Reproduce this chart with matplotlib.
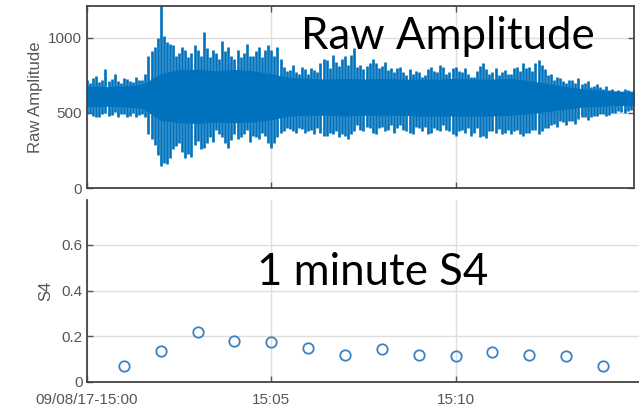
import numpy as np
import matplotlib
matplotlib.use("Agg")
import matplotlib.pyplot as plt

# raw amplitude envelope, one value every 10 s (minutes after 15:00)
raw_step_min = 1 / 6
raw_hi = [720, 730, 705, 790, 725, 710, 735, 715, 740, 720,
          880, 940, 1230, 970, 950, 900, 920, 900, 920, 1040,
          870, 900, 975, 940, 860, 870, 960, 880, 940, 920,
          920, 940, 805, 785, 775, 805, 760, 785, 830, 850,
          885, 815, 875, 885, 805, 795, 830, 830, 815, 785,
          775, 805, 750, 760, 775, 750, 805, 775, 805, 775,
          805, 775, 760, 740, 815, 795, 775, 750, 785, 760,
          805, 830, 805, 830, 820, 750, 720, 730, 700, 720,
          730, 700, 670, 690, 660, 650, 640, 630, 650, 660]
raw_lo = [490, 480, 470, 500, 485, 475, 495, 480, 470, 490,
          360, 290, 150, 160, 260, 300, 200, 210, 315, 270,
          340, 385, 340, 270, 360, 340, 385, 350, 325, 350,
          270, 340, 380, 395, 365, 395, 380, 360, 365, 350,
          360, 340, 350, 360, 420, 380, 400, 360, 410, 390,
          370, 420, 380, 360, 400, 410, 370, 390, 420, 380,
          350, 390, 400, 370, 340, 335, 380, 395, 370, 360,
          385, 350, 370, 390, 380, 400, 430, 445, 420, 450,
          460, 470, 475, 480, 490, 485, 500, 505, 510, 515]

# in-between peaks, 5 s after each sample above
raw_hi_b = [700, 745, 720, 710, 760, 700, 725, 705, 720, 760,
            910, 1000, 1010, 960, 880, 940, 870, 950, 880, 930,
            920, 860, 910, 880, 920, 900, 880, 910, 870, 950,
            880, 860, 780, 820, 760, 790, 800, 770, 860, 800,
            840, 860, 820, 930, 820, 810, 860, 800, 840, 800,
            800, 770, 790, 780, 740, 790, 780, 820, 760, 800,
            780, 800, 740, 780, 830, 760, 800, 770, 760, 800,
            780, 800, 780, 850, 790, 760, 740, 710, 720, 700,
            690, 710, 680, 670, 680, 660, 650, 660, 640, 650]
raw_lo_b = [500, 470, 490, 480, 505, 490, 470, 500, 485, 475,
            330, 220, 170, 200, 280, 240, 230, 290, 260, 300,
            310, 360, 300, 320, 330, 360, 310, 340, 370, 300,
            300, 370, 400, 380, 400, 370, 390, 400, 350, 370,
            380, 360, 330, 380, 390, 410, 370, 400, 380, 420,
            400, 390, 370, 410, 380, 360, 400, 380, 390, 360,
            380, 370, 350, 400, 350, 380, 370, 360, 390, 380,
            360, 370, 390, 360, 400, 420, 410, 440, 450, 430,
            470, 455, 480, 490, 480, 500, 510, 500, 520, 525]

# dense core of the trace, every 30 s
core_step_min = 0.5
core_hi = [680, 675, 680, 690, 760, 790, 790, 780, 790, 780,
           760, 735, 730, 725, 730, 725, 730, 725, 725, 725,
           730, 725, 725, 730, 715, 695, 675, 660, 650, 645, 645]
core_lo = [540, 545, 540, 530, 450, 435, 430, 440, 435, 440,
           455, 480, 485, 485, 480, 485, 485, 485, 480, 480,
           480, 480, 480, 485, 495, 510, 525, 540, 545, 550, 550]

# 1 minute S4
s4_min = [1, 2, 3, 4, 5, 6, 7, 8, 9, 10, 11, 12, 13, 14]
s4_val = [0.070, 0.136, 0.218, 0.180, 0.173, 0.149, 0.116,
          0.144, 0.118, 0.113, 0.129, 0.118, 0.114, 0.067]

tick_min = [0, 5, 10]
tick_labels = ["09/08/17-15:00", "15:05", "15:10"]

blue = "#0072BD"
tick_col = "#555555"
grid_col = "#dedede"

plt.rcParams["font.family"] = ["Liberation Sans", "DejaVu Sans"]

fig = plt.figure(figsize=(6.39, 4.09), dpi=100)

ax1 = fig.add_axes([87 / 639, 1 - 188.3 / 409, 547 / 639, 182.3 / 409])
ax2 = fig.add_axes([87 / 639, 1 - 381.7 / 409, 558 / 639, 181.7 / 409])

# top panel: raw amplitude
t_raw = np.arange(len(raw_hi)) * raw_step_min
t_raw_b = t_raw + raw_step_min / 2
t_core = np.arange(len(core_hi)) * core_step_min
ax1.fill_between(t_core, core_lo, core_hi, color=blue, lw=0)
ax1.vlines(t_raw, raw_lo, raw_hi, color=blue, lw=1.9)
ax1.vlines(t_raw_b, raw_lo_b, raw_hi_b, color=blue, lw=1.9)
ax1.set_xlim(0, 547 / 36.86)
ax1.set_ylim(0, 1210)
ax1.set_yticks([0, 500, 1000])
ax1.set_xticks(tick_min)
ax1.set_xticklabels([])
ax1.set_ylabel("Raw Amplitude", fontsize=12, color=tick_col, labelpad=4)
ax1.tick_params(direction="in", length=4, colors=tick_col, labelsize=11,
                top=True, right=True, width=1)
ax1.grid(True, color=grid_col, lw=1)
ax1.set_axisbelow(True)
for s in ax1.spines.values():
    s.set_color("#444444")
    s.set_linewidth(1.3)

# bottom panel: S4
ax2.plot(s4_min, s4_val, "o", mfc="none", mec="#3b82c4", ms=7.5, mew=1.3)
ax2.set_xlim(0, 558 / 36.86)
ax2.set_ylim(0, 0.797)
ax2.set_yticks([0, 0.2, 0.4, 0.6])
ax2.set_yticklabels(["0", "0.2", "0.4", "0.6"])
ax2.set_xticks(tick_min)
ax2.set_xticklabels(tick_labels)
ax2.set_ylabel("S4", fontsize=12, color=tick_col, labelpad=6)
ax2.tick_params(axis="y", direction="in", length=4, colors=tick_col,
                labelsize=11, width=1, pad=3)
ax2.tick_params(axis="x", direction="in", length=4, colors=tick_col,
                labelsize=11, width=1, pad=8)
ax2.grid(True, color=grid_col, lw=1)
ax2.set_axisbelow(True)
ax2.spines["top"].set_visible(False)
ax2.spines["right"].set_visible(False)
for s in ("left", "bottom"):
    ax2.spines[s].set_color("#444444")
    ax2.spines[s].set_linewidth(1.3)

# overlay captions
fig.text(301 / 639, 1 - 49 / 409, "Raw Amplitude", fontsize=31.5,
         family=["Lato", "DejaVu Sans"], va="baseline", ha="left")
fig.text(257 / 639, 1 - 285 / 409, "1 minute S4", fontsize=31.5,
         family=["Lato", "DejaVu Sans"], va="baseline", ha="left")

fig.savefig("out.png", dpi=100)
